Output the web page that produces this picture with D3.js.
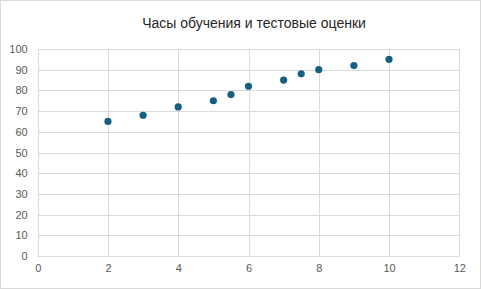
<!DOCTYPE html>
<html>
<head>
<meta charset="utf-8">
<script src="https://cdn.jsdelivr.net/npm/d3@7"></script>
<style>
  html, body { margin: 0; padding: 0; background: #fff; }
  svg { display: block; }
</style>
</head>
<body>
<svg id="chart" width="481" height="289"></svg>
<script>
const title = "Часы обучения и тестовые оценки";
const hours = [2, 3, 4, 5, 5.5, 6, 7, 7.5, 8, 9, 10];
const scores = [65, 68, 72, 75, 78, 82, 85, 88, 90, 92, 95];
const xTicks = [0, 2, 4, 6, 8, 10, 12];
const yTicks = [0, 10, 20, 30, 40, 50, 60, 70, 80, 90, 100];

const W = 481, H = 289;
const svg = d3.select("#chart");

svg.append("rect")
  .attr("x", 0.5).attr("y", 0.5)
  .attr("width", W - 1).attr("height", H - 1)
  .attr("fill", "#fff").attr("stroke", "#d9d9d9");

const x = d3.scaleLinear().domain([0, 12]).range([37.7, 459.3]);
const y = d3.scaleLinear().domain([0, 100]).range([256, 49]);

const font = "'Liberation Sans', Arial, sans-serif";

// Gridlines
const g = svg.append("g");
g.selectAll("line.h").data(yTicks).join("line")
  .attr("x1", x(0)).attr("x2", x(12))
  .attr("y1", d => Math.round(y(d)) + 0.5).attr("y2", d => Math.round(y(d)) + 0.5)
  .attr("stroke", "#d9d9d9").attr("stroke-width", 1);
g.selectAll("line.v").data(xTicks).join("line")
  .attr("y1", y(0)).attr("y2", y(100))
  .attr("x1", d => Math.round(x(d)) + 0.5).attr("x2", d => Math.round(x(d)) + 0.5)
  .attr("stroke", "#d9d9d9").attr("stroke-width", 1);

// Axes (labels only, via d3 axes)
const yAxis = svg.append("g")
  .attr("transform", `translate(${x(0)},0)`)
  .call(d3.axisLeft(y).tickValues(yTicks).tickSize(0).tickPadding(10));
yAxis.select(".domain").remove();
yAxis.selectAll("text")
  .attr("fill", "#595959").attr("font-size", "11px").attr("font-family", font);

const xAxis = svg.append("g")
  .attr("transform", `translate(0,${y(0)})`)
  .call(d3.axisBottom(x).tickValues(xTicks).tickSize(0).tickPadding(8));
xAxis.select(".domain").remove();
xAxis.selectAll("text")
  .attr("fill", "#595959").attr("font-size", "11px").attr("font-family", font);

// Points
svg.append("g").selectAll("circle")
  .data(hours.map((h, i) => [h, scores[i]]))
  .join("circle")
  .attr("cx", d => x(d[0])).attr("cy", d => y(d[1]))
  .attr("r", 3.6)
  .attr("fill", "#156082");

// Title
svg.append("text")
  .attr("x", 254).attr("y", 28)
  .attr("text-anchor", "middle")
  .attr("fill", "#262626")
  .attr("font-size", "14px")
  .attr("font-family", font)
  .text(title);
</script>
</body>
</html>
